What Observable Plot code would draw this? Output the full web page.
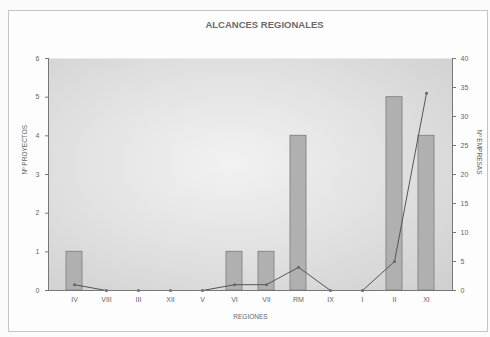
<!DOCTYPE html>
<html><head><meta charset="utf-8">
<script src="https://cdn.jsdelivr.net/npm/d3@7"></script>
<script src="https://cdn.jsdelivr.net/npm/@observablehq/plot@0.6"></script>
<style>
body{margin:0;background:#fbfbfb;font-family:"Liberation Sans",Arial,sans-serif;}
#wrap{position:relative;width:490px;height:337px;}
#box{position:absolute;left:8px;top:10px;width:478px;height:320px;border:1px solid #c4c4c4;background:#fdfdfd;}
#chart{position:absolute;left:0;top:0;}
</style></head>
<body><div id="wrap"><div id="box"></div><div id="chart"></div></div>
<script>
const regiones = ["IV","VIII","III","XII","V","VI","VII","RM","IX","I","II","XI"];
const proyectos = [1,0,0,0,0,1,1,4,0,0,5,4];
const empresas = [1,0,0,0,0,1,1,4,0,0,5,34];
const leftTicks = [0,1,2,3,4,5,6];
const rightTicks = [0,5,10,15,20,25,30,35,40];
const titulo = "ALCANCES REGIONALES";
const leftLabel = "Nº PROYECTOS";
const rightLabel = "Nº EMPRESAS";
const xLabel = "REGIONES";

const k = 6/40;
const rows = regiones.map((r,i)=>({r, p: proyectos[i], e: empresas[i]*k}));
const grey = "#666";
const chart = Plot.plot({
  width: 490, height: 337,
  marginLeft: 48, marginRight: 38, marginTop: 58, marginBottom: 47,
  style: {fontFamily: "Liberation Sans, Arial, sans-serif", fontSize: "7px", color: grey, background: "transparent"},
  x: {domain: regiones, padding: 0.5, label: null},
  y: {domain: [0,6], label: null},
  marks: [
    Plot.frame({fill: "url(#bgGrad)", stroke: null}),
    Plot.barY(rows, {x: "r", y: "p", fill: "#b0b0b0", stroke: "#888", strokeWidth: 1}),
    Plot.line(rows, {x: "r", y: "e", stroke: "#555", strokeWidth: 1}),
    Plot.dot(rows, {x: "r", y: "e", r: 1.5, fill: "#666", stroke: null}),
    Plot.axisY(leftTicks, {anchor: "left", tickSize: 3, tickPadding: 6, stroke: "#777", fill: grey, label: null}),
    Plot.axisY(rightTicks.map(v=>v*k), {anchor: "right", tickSize: 3, tickPadding: 5, stroke: "#777", fill: grey, label: null, tickFormat: d => String(Math.round(d/k))}),
    Plot.axisX({tickSize: 0, tickPadding: 7, fill: grey, label: null}),
    Plot.ruleY([0], {stroke: "#777"}),
    Plot.frame({anchor: "left", stroke: "#777"}),
    Plot.frame({anchor: "right", stroke: "#777"}),
    Plot.text([titulo], {frameAnchor: "top", dy: -37, fontSize: 9.5, fontWeight: "bold", fill: "#6a6a6a", dx: 14}),
    Plot.text([leftLabel], {frameAnchor: "left", dx: -24, rotate: -90, fontSize: 6.5, fill: grey}),
    Plot.text([rightLabel], {frameAnchor: "right", dx: 27, rotate: 90, fontSize: 6.5, fill: grey}),
    Plot.text([xLabel], {frameAnchor: "bottom", dy: 28, fontSize: 6.5, fill: grey})
  ]
});
const svg = d3.select(chart);
const defs = svg.insert("defs", ":first-child");
const g = defs.append("radialGradient").attr("id","bgGrad").attr("cx","0.45").attr("cy","0.45").attr("r","0.75");
g.append("stop").attr("offset","0").attr("stop-color","#f2f2f2");
g.append("stop").attr("offset","0.5").attr("stop-color","#e2e2e2");
g.append("stop").attr("offset","1").attr("stop-color","#d0d0d0");
document.getElementById("chart").appendChild(chart);
</script></body></html>
